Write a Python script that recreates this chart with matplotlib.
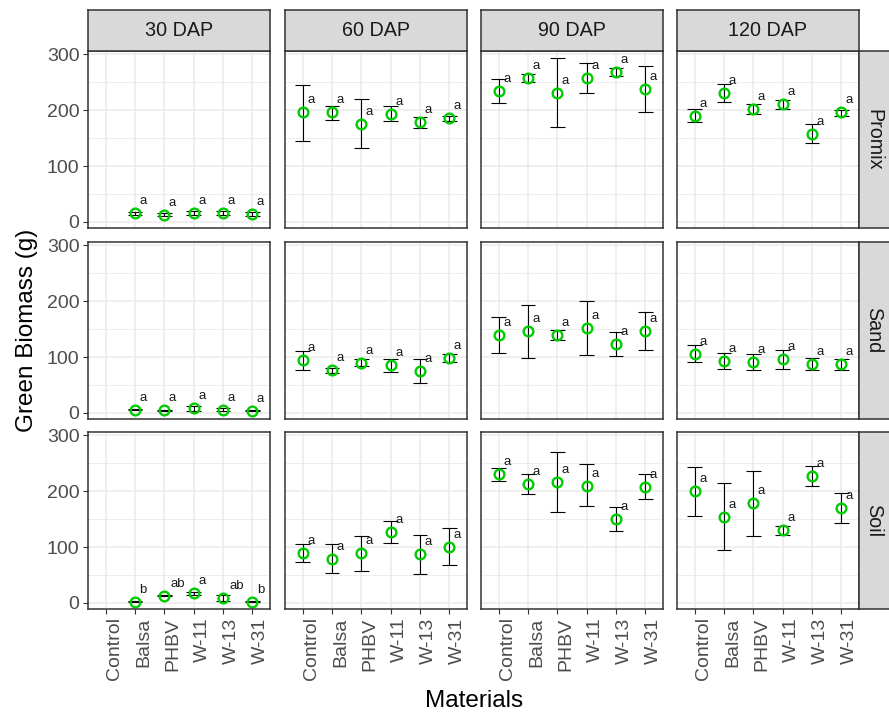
import numpy as np
import matplotlib
matplotlib.use("Agg")
import matplotlib.pyplot as plt

plt.rcParams['font.family'] = ['Liberation Sans', 'DejaVu Sans']

# Categories
materials = ["Control", "Balsa", "PHBV", "W-11", "W-13", "W-31"]
days = ["30 DAP", "60 DAP", "90 DAP", "120 DAP"]
media = ["Promix", "Sand", "Soil"]
nan = np.nan

# Promix: one row per DAP (30, 60, 90, 120), one column per material
promix_mean = [[nan, 15, 13, 16, 16, 14],
               [196, 196, 176, 194, 178, 186],
               [234, 257, 231, 257, 268, 238],
               [190, 231, 202, 211, 158, 196]]
promix_low = [[nan, 12, 10, 13, 13, 10],
              [145, 183, 132, 181, 168, 181],
              [212, 250, 169, 230, 261, 197],
              [178, 215, 194, 202, 142, 190]]
promix_high = [[nan, 18, 15, 19, 19, 17],
               [245, 208, 220, 208, 188, 190],
               [256, 265, 293, 284, 275, 280],
               [203, 247, 211, 219, 176, 200]]

# Sand
sand_mean = [[nan, 6, 5, 8, 6, 4],
             [94, 76, 90, 85, 75, 99],
             [139, 146, 139, 152, 123, 147],
             [105, 93, 91, 97, 87, 88]]
sand_low = [[nan, 5, 4, 4, 4, 3],
            [76, 72, 84, 73, 53, 91],
            [107, 98, 131, 104, 101, 112],
            [91, 79, 77, 79, 76, 77]]
sand_high = [[nan, 7, 6, 12, 8, 5],
             [110, 81, 96, 96, 97, 106],
             [172, 193, 148, 200, 145, 181],
             [121, 108, 106, 112, 98, 97]]

# Soil
soil_mean = [[nan, 2, 13, 17, 8, 2],
             [89, 79, 89, 127, 87, 100],
             [230, 213, 216, 210, 150, 208],
             [200, 154, 178, 130, 227, 170]]
soil_low = [[nan, 1, 12, 14, 3, 1],
            [73, 53, 57, 107, 52, 67],
            [219, 195, 163, 173, 128, 186],
            [155, 94, 120, 122, 209, 143]]
soil_high = [[nan, 3, 14, 20, 14, 3],
             [106, 105, 120, 146, 122, 134],
             [241, 230, 270, 248, 172, 230],
             [244, 214, 236, 138, 246, 197]]

# significance letters
letters_all_a = ["a"] * 6
soil_30_letters = ["", "b", "ab", "a", "ab", "b"]

means = [promix_mean, sand_mean, soil_mean]
lows = [promix_low, sand_low, soil_low]
highs = [promix_high, sand_high, soil_high]

W, H = 889, 717
fig = plt.figure(figsize=(W / 100, H / 100), dpi=100)

def px_axes(x0, y0, x1, y1):
    return fig.add_axes([x0 / W, 1 - y1 / H, (x1 - x0) / W, (y1 - y0) / H])

col_x = [88, 285, 481, 677]
row_y = [51, 242, 432]
pw, ph = 182, 177
grey20 = "#333333"

for r in range(3):
    for c in range(4):
        x0, y0 = col_x[c], row_y[r]
        ax = px_axes(x0, y0, x0 + pw, y0 + ph)
        xs = np.arange(1, 7)
        m = np.array(means[r][c], dtype=float)
        lo = np.array(lows[r][c], dtype=float)
        hi = np.array(highs[r][c], dtype=float)

        ax.set_xlim(0.4, 6.6)
        ax.set_ylim(-11, 306)
        ax.set_xticks(xs)
        ax.set_yticks([0, 100, 200, 300])
        ax.set_yticks([50, 150, 250], minor=True)
        ax.grid(True, which='major', color='#EBEBEB', linewidth=1.1, zorder=0)
        ax.grid(True, which='minor', axis='y', color='#EBEBEB', linewidth=0.6, zorder=0)
        ax.set_axisbelow(True)
        for s in ax.spines.values():
            s.set_color(grey20)
            s.set_linewidth(1.1)
            s.set_zorder(5)
        ax.tick_params(which='major', length=3.6, width=0.8, color=grey20,
                       labelsize=14, labelcolor='#4D4D4D', pad=2.5)
        ax.tick_params(which='minor', length=0)

        ok = ~np.isnan(m)
        # error bars with caps of width 0.5
        ax.vlines(xs[ok], lo[ok], hi[ok], color='black', linewidth=0.8, zorder=3)
        ax.hlines(lo[ok], xs[ok] - 0.25, xs[ok] + 0.25, color='black', linewidth=0.8, zorder=3)
        ax.hlines(hi[ok], xs[ok] - 0.25, xs[ok] + 0.25, color='black', linewidth=0.8, zorder=3)
        ax.plot(xs[ok], m[ok], 'o', markersize=7, markerfacecolor='none',
                markeredgecolor='#00CC00', markeredgewidth=1.7, zorder=4)

        labs = soil_30_letters if (r == 2 and c == 0) else letters_all_a
        for i in range(6):
            if ok[i] and labs[i]:
                ax.annotate(labs[i], (xs[i], m[i]), xytext=(3 + 1.5 * len(labs[i]), 12),
                            textcoords='offset pixels', ha='left', va='center',
                            fontsize=9.5, color='#1A1A1A', zorder=6)

        if c == 0:
            ax.set_yticklabels(["0", "100", "200", "300"])
        else:
            ax.tick_params(axis='y', length=0, labelleft=False)
        if r == 2:
            ax.set_xticklabels(materials, rotation=90, ha='left', va='top')
        else:
            ax.tick_params(axis='x', length=0, labelbottom=False)

        # top strips
        if r == 0:
            sax = px_axes(x0, 10, x0 + pw, 51)
            sax.set_facecolor('#D9D9D9')
            sax.set_xticks([]); sax.set_yticks([])
            for s in sax.spines.values():
                s.set_color(grey20); s.set_linewidth(1.1)
            sax.text(0.5, 0.5, days[c], ha='center', va='center', fontsize=14.2,
                     color='#1A1A1A', transform=sax.transAxes)
        # right strips
        if c == 3:
            sax = px_axes(x0 + pw, y0, x0 + pw + 41, y0 + ph)
            sax.set_facecolor('#D9D9D9')
            sax.set_xticks([]); sax.set_yticks([])
            for s in sax.spines.values():
                s.set_color(grey20); s.set_linewidth(1.1)
            fig.text(874 / W, 1 - (y0 + ph / 2) / H, media[r], ha='center', va='center',
                     fontsize=14.2, rotation=270, color='#1A1A1A')

fig.text(27 / W, 1 - 330 / H, "Green Biomass (g)", rotation=90, ha='center', va='center',
         fontsize=17.5, color='black')
fig.text(474 / W, 1 - 701 / H, "Materials", ha='center', va='center',
         fontsize=17.5, color='black')

fig.savefig("out.png", dpi=100)
